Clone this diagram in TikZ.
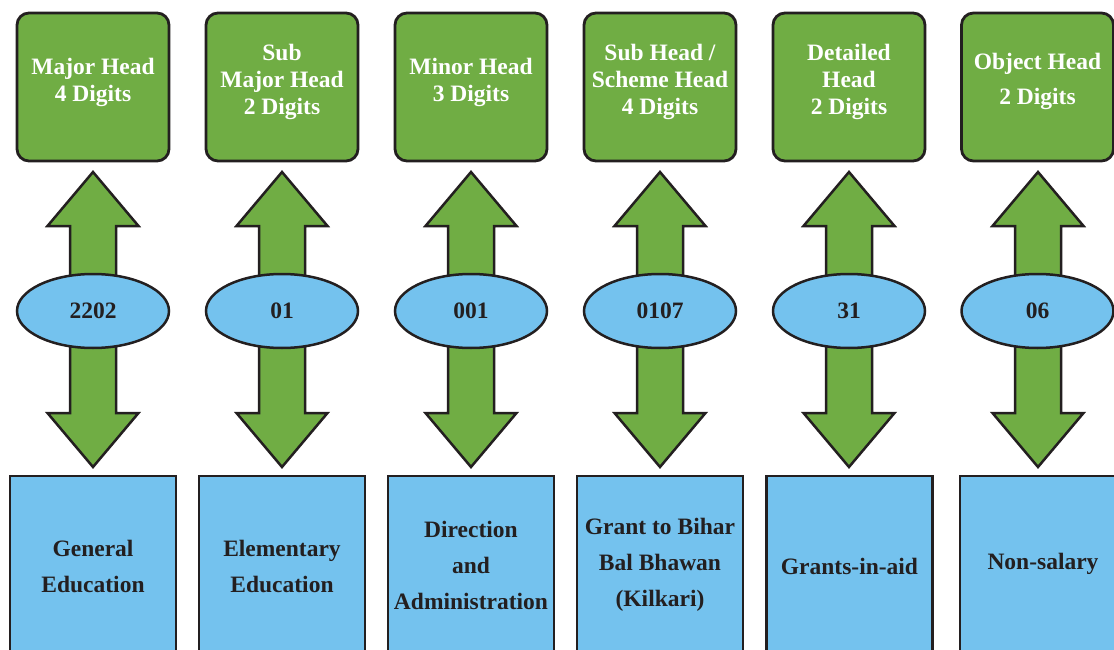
\documentclass[tikz,border=0pt]{standalone}
\usepackage{fontspec}
\setmainfont{Liberation Serif}
\usetikzlibrary{shapes.geometric}
\definecolor{boxgreen}{HTML}{70AD44}
\definecolor{boxblue}{HTML}{74C2EE}
\definecolor{ink}{HTML}{231F20}
\tikzset{
 headbox/.style={draw=ink, line width=2.8pt, fill=boxgreen, rounded corners=12pt, minimum width=152pt, minimum height=148pt, inner sep=0pt},
 headtext/.style={text=white, font=\fontsize{23.5}{27}\selectfont\bfseries, align=center, inner sep=0pt},
 headtextwide/.style={headtext, font=\fontsize{23.5}{35}\selectfont\bfseries},
 codeell/.style={ellipse, draw=ink, line width=2.5pt, fill=boxblue, minimum width=152pt, minimum height=74pt, inner sep=0pt, font=\fontsize{23.5}{27}\selectfont\bfseries, text=ink},
 descbox/.style={draw=ink, line width=2.5pt, fill=boxblue, minimum width=166pt, minimum height=210pt, inner sep=0pt},
 desctext/.style={text=ink, font=\fontsize{23.5}{36}\selectfont\bfseries, align=center, inner sep=0pt},
 dblarrow/.style={draw=ink, line width=2.5pt, fill=boxgreen, line join=miter},
}
\begin{document}
\begin{tikzpicture}[x=1pt,y=-1pt]
\useasboundingbox (0,0) rectangle (1114,650);
\clip (0,0) rectangle (1114,650);
% double arrows
\foreach \cx [count=\i] in {93,282,471,660,849,1038}{
  \coordinate (t\i) at (\cx,172);
  \coordinate (b\i) at (\cx,467);
  \draw[dblarrow] (t\i) -- ++(45.5,54) -- ++(-22.5,0) -- ++(0,187) -- ++(22.5,0) -- (b\i)
     -- ++(-45.5,-54) -- ++(22.5,0) -- ++(0,-187) -- ++(-22.5,0) -- cycle;
}
% head boxes
\node[headbox] (h1) at (93,87) {};
\node[headbox] (h2) at (282,87) {};
\node[headbox] (h3) at (471,87) {};
\node[headbox] (h4) at (660,87) {};
\node[headbox] (h5) at (849,87) {};
\node[headbox] (h6) at (1037.5,87) {};
\node[headtext] (h1t) at (93,82) {Major Head\\4 Digits};
\node[headtext] (h2t) at (282,81.5) {Sub\\Major Head\\2 Digits};
\node[headtext] (h3t) at (471,82) {Minor Head\\3 Digits};
\node[headtext] (h4t) at (660,81.5) {Sub Head /\\Scheme Head\\4 Digits};
\node[headtext] (h5t) at (849,81.5) {Detailed\\Head\\2 Digits};
\node[headtextwide] (h6t) at (1037.5,81) {Object Head\\2 Digits};
% code ellipses
\node[codeell] (c1) at (93,311) {2202};
\node[codeell] (c2) at (282,311) {01};
\node[codeell] (c3) at (471,311) {001};
\node[codeell] (c4) at (660,311) {0107};
\node[codeell] (c5) at (849,311) {31};
\node[codeell] (c6) at (1037.5,311) {06};
% description boxes
\node[descbox] (d1) at (93,581) {};
\node[descbox] (d2) at (282,581) {};
\node[descbox] (d3) at (471,581) {};
\node[descbox] (d4) at (660,581) {};
\node[descbox] (d5) at (849.5,581) {};
\node[descbox] (d6) at (1043,581) {};
\node[desctext] (d1t) at (93,566.5) {General\\Education};
\node[desctext] (d2t) at (282,566.5) {Elementary\\Education};
\node[desctext] (d3t) at (471,565.5) {Direction\\and\\Administration};
\node[desctext] (d4t) at (660,564.5) {Grant to Bihar\\Bal Bhawan\\(Kilkari)};
\node[desctext] (d5t) at (849.5,566.5) {Grants-in-aid};
\node[desctext] (d6t) at (1043,563.5) {Non-salary};
% clip the bottom rows of the two-part arrows underneath the ellipses stays as drawn
\end{tikzpicture}
\end{document}
